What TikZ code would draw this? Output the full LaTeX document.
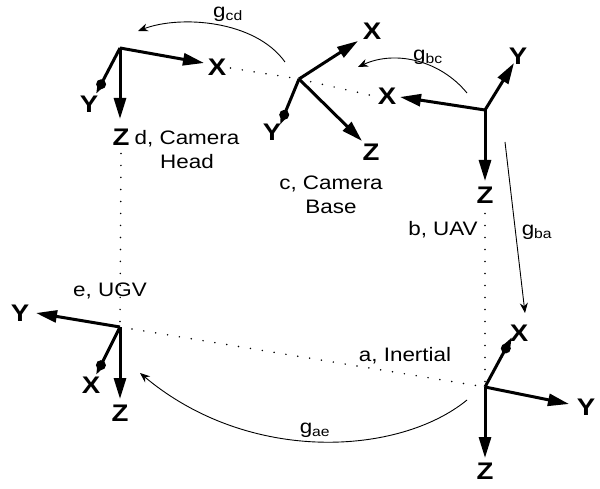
\documentclass[tikz,border=0pt]{standalone}
\usepackage{fontspec}
\setmainfont{Liberation Sans}
\usetikzlibrary{arrows.meta,calc}
\newcommand{\hs}[1]{\scalebox{1.15}[1]{#1}}
\newcommand{\twol}[2]{\hs{\begin{tabular}{@{}c@{}}#1\\#2\end{tabular}}}
\begin{document}
\begin{tikzpicture}[x=1pt,y=-1pt,
  axis/.style={line width=3pt,-{Triangle[length=21pt,width=12pt]}},
  ballaxis/.style={line width=3pt,-{Triangle[length=13pt,width=8pt]}},
  ball/.style={fill=black},
  axlab/.style={font=\fontsize{24}{24}\selectfont\bfseries,inner sep=0pt},
  framelab/.style={font=\fontsize{19.5}{24}\selectfont,inner sep=0pt},
  glab/.style={font=\fontsize{19.5}{20}\selectfont,inner sep=0pt},
  trans/.style={line width=0.9pt,-{Stealth[length=10pt,width=8pt]}},
  dots/.style={line width=1.7pt,line cap=round,dash pattern=on 0pt off 12pt}]
\useasboundingbox (0,0) rectangle (600,489);
% ---------- frame d, Camera Head
\coordinate (dO) at (120,48);
\coordinate (dXe) at (204,63);
\coordinate (dYe) at (96,94);
\coordinate (dZe) at (120,119);
\node[axlab] (dX) at (217,67) {\hs{X}};
\node[axlab] (dY) at (89,104) {\hs{Y}};
\node[axlab] (dZ) at (121,137) {\hs{Z}};
\node[framelab] (dL) at (187,152) {\twol{d, Camera}{Head}};
\draw[axis] (dO) -- (dXe);
\draw[ballaxis] (dO) -- (dYe);
\fill[ball] ($(dYe)!11pt!(dO)$) circle (5pt);
\draw[axis] (dO) -- (dZe);
% ---------- frame c, Camera Base
\coordinate (cO) at (299,79);
\coordinate (cXe) at (358,41);
\coordinate (cYe) at (280,125);
\coordinate (cZe) at (362,141);
\node[axlab] (cX) at (372,31) {\hs{X}};
\node[axlab] (cY) at (272,132) {\hs{Y}};
\node[axlab] (cZ) at (371,152) {\hs{Z}};
\node[framelab] (cL) at (331,197) {\twol{c, Camera}{Base}};
\draw[axis] (cO) -- (cXe);
\draw[ballaxis] (cO) -- (cYe);
\fill[ball] ($(cYe)!11pt!(cO)$) circle (5pt);
\draw[axis] (cO) -- (cZe);
% ---------- frame b, UAV
\coordinate (bO) at (485,110);
\coordinate (bXe) at (400,97);
\coordinate (bYe) at (514,63);
\coordinate (bZe) at (485,181);
\node[axlab] (bX) at (387,96) {\hs{X}};
\node[axlab] (bY) at (518,56) {\hs{Y}};
\node[axlab] (bZ) at (485,195) {\hs{Z}};
\node[framelab] (bL) at (443,230) {\hs{b, UAV}};
\draw[axis] (bO) -- (bXe);
\draw[axis] (bO) -- (bYe);
\draw[axis] (bO) -- (bZe);
% ---------- frame a, Inertial
\coordinate (aO) at (485,387);
\coordinate (aXe) at (512,337);
\coordinate (aYe) at (569,404);
\coordinate (aZe) at (485,458);
\node[axlab] (aX) at (519,333) {\hs{X}};
\node[axlab] (aY) at (586,407) {\hs{Y}};
\node[axlab] (aZ) at (485,471) {\hs{Z}};
\node[framelab] (aL) at (405,356) {\hs{a, Inertial}};
\draw[ballaxis] (aO) -- (aXe);
\fill[ball] ($(aXe)!13pt!(aO)$) circle (5pt);
\draw[axis] (aO) -- (aYe);
\draw[axis] (aO) -- (aZe);
% ---------- frame e, UGV
\coordinate (eO) at (120,327);
\coordinate (eXe) at (96,375);
\coordinate (eYe) at (36,313);
\coordinate (eZe) at (120,399);
\node[axlab] (eX) at (91,385) {\hs{X}};
\node[axlab] (eY) at (20,313) {\hs{Y}};
\node[axlab] (eZ) at (120,413) {\hs{Z}};
\node[framelab] (eL) at (110,291) {\hs{e, UGV}};
\draw[ballaxis] (eO) -- (eXe);
\fill[ball] ($(eXe)!11pt!(eO)$) circle (5pt);
\draw[axis] (eO) -- (eYe);
\draw[axis] (eO) -- (eZe);
% ---------- dotted links
\draw[dots] (dX.east) ++(4,1) -- (cO);
\draw[dots] (cO) -- ([xshift=-4pt]bX.west);
\draw[dots] ([yshift=-8pt]dZ.south) -- (eO);
\draw[dots] ([yshift=-10pt]bZ.south) -- (aO);
\draw[dots] (eO) ++(12,2) -- (aO);
% ---------- transformations
\coordinate (gcdS) at (285,62);
\coordinate (gcdE) at (138,31);
\draw[trans] (gcdS) .. controls (255,20) and (180,15) .. (gcdE);
\node[glab] (gcd) at (228,14) {\hs{g\textsubscript{cd}}};
\coordinate (gbcS) at (467,93);
\coordinate (gbcE) at (358,67);
\draw[trans] (gbcS) .. controls (440,60) and (395,50) .. (gbcE);
\node[glab] (gbc) at (428,57) {\hs{g\textsubscript{bc}}};
\coordinate (gbaS) at (505,142);
\coordinate (gbaE) at (525,313);
\draw[trans] (gbaS) -- (gbaE);
\node[glab] (gba) at (537,232) {\hs{g\textsubscript{ba}}};
\coordinate (gaeS) at (467,400);
\coordinate (gaeE) at (140,373);
\draw[trans] (gaeS) .. controls (400,455) and (250,465) .. (gaeE);
\node[glab] (gae) at (315,430) {\hs{g\textsubscript{ae}}};
\end{tikzpicture}
\end{document}
